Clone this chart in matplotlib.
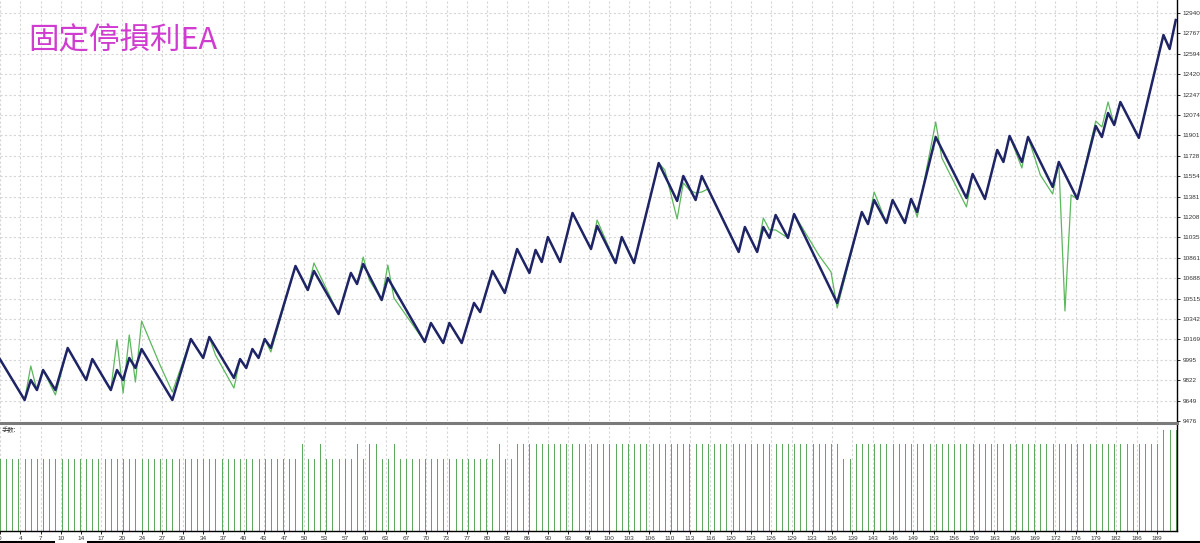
import matplotlib
matplotlib.use('Agg')
import matplotlib.pyplot as plt
import numpy as np
from matplotlib.lines import Line2D

# ---------------- data ----------------
title = '固定停損利EA'
lot_label = '手数:'

# balance curve vertices: trade number, balance
bal_idx = [0, 4, 5, 6, 7, 9, 11, 14, 15, 18, 19, 20, 21, 22, 23, 28, 31, 33, 34, 38,
           39, 40, 41, 42, 43, 44, 48, 50, 51, 55, 57, 58, 59, 62, 63, 69, 70, 72, 73, 75,
           77, 78, 80, 82, 84, 86, 87, 88, 89, 91, 93, 96, 97, 100, 101, 103, 107, 110, 111, 113,
           114, 120, 121, 123, 124, 125, 126, 128, 129, 136, 140, 141, 142, 144, 145, 147, 148, 149, 152, 157,
           158, 160, 162, 163, 164, 166, 167, 171, 172, 175, 178, 179, 180, 181, 182, 185, 189, 190, 191]
bal_val = [10000, 9654, 9824, 9739, 9909, 9739, 10096, 9824, 10002, 9739, 9909, 9824, 10011, 9926, 10087, 9654, 10172, 10011, 10189, 9841,
           10002, 9926, 10087, 10011, 10172, 10096, 10792, 10588, 10750, 10384, 10733, 10639, 10809, 10503, 10690, 10147, 10308, 10138, 10308, 10138,
           10478, 10401, 10750, 10563, 10936, 10733, 10928, 10826, 11038, 10826, 11242, 10936, 11132, 10817, 11038, 10817, 11666, 11344, 11556, 11352,
           11556, 10911, 11123, 10911, 11123, 11030, 11225, 11030, 11233, 10478, 11250, 11148, 11352, 11157, 11352, 11157, 11361, 11250, 11887, 11369,
           11573, 11361, 11777, 11675, 11896, 11675, 11887, 11463, 11675, 11361, 11981, 11887, 12091, 11989, 12184, 11879, 12753, 12634, 12880]

# equity curve vertices: trade number, equity
eq_idx = [0, 4, 5, 6, 7, 9, 11, 14, 15, 18, 19, 20, 21, 22, 23, 26, 28, 31, 33, 34,
          35, 38, 39, 40, 41, 42, 43, 44, 48, 50, 51, 55, 57, 58, 59, 60, 62, 63, 64, 69,
          70, 72, 73, 75, 77, 78, 80, 82, 84, 86, 87, 88, 89, 91, 93, 96, 97, 100, 101, 103,
          107, 108, 110, 111, 112, 113, 114, 115, 120, 121, 123, 124, 125, 126, 128, 129, 133, 135, 136, 140,
          141, 142, 144, 145, 147, 148, 149, 152, 153, 157, 158, 160, 162, 163, 164, 166, 167, 169, 171, 172,
          173, 174, 175, 178, 179, 180, 181, 182, 185, 189, 190, 191]
eq_val = [10000, 9654, 9943, 9739, 9909, 9697, 10096, 9824, 10002, 9739, 10164, 9714, 10206, 9807, 10325, 9951, 9722, 10172, 10011, 10189,
          10036, 9756, 10002, 9926, 10087, 10011, 10172, 10062, 10792, 10588, 10817, 10384, 10733, 10639, 10868, 10673, 10503, 10800, 10520, 10147,
          10308, 10138, 10308, 10138, 10478, 10401, 10750, 10563, 10936, 10733, 10928, 10826, 11038, 10826, 11242, 10936, 11182, 10817, 11038, 10817,
          11666, 11607, 11191, 11497, 11437, 11412, 11420, 11446, 10911, 11123, 10911, 11199, 11098, 11098, 11030, 11233, 10885, 10741, 10435, 11250,
          11148, 11420, 11157, 11352, 11157, 11361, 11208, 12014, 11709, 11293, 11573, 11361, 11777, 11675, 11896, 11624, 11887, 11564, 11403, 11675,
          10410, 11395, 11361, 12023, 11972, 12184, 11989, 12184, 11879, 12753, 12634, 12880]

# lot size of every trade (0..191)
lots = [0.10, 0.10, 0.10, 0.10, 0.10, 0.10, 0.10, 0.10, 0.10, 0.10,
        0.10, 0.10, 0.10, 0.10, 0.10, 0.10, 0.10, 0.10, 0.10, 0.10,
        0.10, 0.10, 0.10, 0.10, 0.10, 0.10, 0.10, 0.10, 0.10, 0.10,
        0.10, 0.10, 0.10, 0.10, 0.10, 0.10, 0.10, 0.10, 0.10, 0.10,
        0.10, 0.10, 0.10, 0.10, 0.10, 0.10, 0.10, 0.10, 0.10, 0.12,
        0.10, 0.10, 0.12, 0.10, 0.10, 0.10, 0.10, 0.10, 0.12, 0.10,
        0.12, 0.12, 0.10, 0.10, 0.12, 0.10, 0.10, 0.10, 0.10, 0.10,
        0.10, 0.10, 0.10, 0.10, 0.10, 0.10, 0.10, 0.10, 0.10, 0.10,
        0.10, 0.12, 0.10, 0.10, 0.12, 0.12, 0.12, 0.12, 0.12, 0.12,
        0.12, 0.12, 0.12, 0.12, 0.12, 0.12, 0.12, 0.12, 0.12, 0.12,
        0.12, 0.12, 0.12, 0.12, 0.12, 0.12, 0.12, 0.12, 0.12, 0.12,
        0.12, 0.12, 0.12, 0.12, 0.12, 0.12, 0.12, 0.12, 0.12, 0.12,
        0.12, 0.12, 0.12, 0.12, 0.12, 0.12, 0.12, 0.12, 0.12, 0.12,
        0.12, 0.12, 0.12, 0.12, 0.12, 0.12, 0.12, 0.10, 0.10, 0.12,
        0.12, 0.12, 0.12, 0.12, 0.12, 0.12, 0.12, 0.12, 0.12, 0.12,
        0.12, 0.12, 0.12, 0.12, 0.12, 0.12, 0.12, 0.12, 0.12, 0.12,
        0.12, 0.12, 0.12, 0.12, 0.12, 0.12, 0.12, 0.12, 0.12, 0.12,
        0.12, 0.12, 0.12, 0.12, 0.12, 0.12, 0.12, 0.12, 0.12, 0.12,
        0.12, 0.12, 0.12, 0.12, 0.12, 0.12, 0.12, 0.12, 0.12, 0.14,
        0.14, 0.14]

y_ticks = [9476, 9649, 9822, 9995, 10169, 10342, 10515, 10688, 10861, 11035, 11208,
           11381, 11554, 11728, 11901, 12074, 12247, 12420, 12594, 12767, 12940]
x_labels = ['0', '4', '7', '10', '14', '17', '20', '24', '27', '30', '34', '37', '40', '43', '47',
            '50', '53', '57', '60', '63', '67', '70', '73', '77', '80', '83', '86', '90', '93', '96',
            '100', '103', '106', '110', '113', '116', '120', '123', '126', '129', '133', '136', '139',
            '143', '146', '149', '153', '156', '159', '163', '166', '169', '172', '176', '179', '182',
            '186', '189']

# ---------------- layout ----------------
W, H = 1200, 543
fig = plt.figure(figsize=(W / 100, H / 100), dpi=100)
fig.patch.set_facecolor('white')


def px_axes(l, t, r, b):
    return fig.add_axes([l / W, 1 - b / H, (r - l) / W, (b - t) / H])


ax = px_axes(0, 0, 1177, 421)
ax2 = px_axes(0, 425, 1177, 531)

trade_n = np.arange(len(lots))
x_max = 191.2
tick_step = 3.297
x_pos = np.arange(len(x_labels)) * tick_step

grid_kw = dict(color='#d6d6d6', linestyle=(0, (2, 2)), linewidth=0.8)
lab_font = ['Liberation Sans', 'DejaVu Sans']

# main panel
ax.plot(eq_idx, eq_val, color='#5cb85c', lw=0.9, zorder=3)
ax.plot(bal_idx, bal_val, color='#1f2466', lw=1.8, zorder=4)
ax.set_xlim(0, x_max)
ax.set_ylim(9476, 13050)
ax.set_xticks(x_pos)
ax.set_yticks(y_ticks)
ax.set_yticklabels([str(v) for v in y_ticks], fontsize=4.6, color='#333333', family=lab_font)
ax.yaxis.tick_right()
ax.tick_params(axis='y', length=2, pad=2, width=0.6)
ax.tick_params(axis='x', length=0, labelbottom=False)
ax.grid(True, **grid_kw)
ax.set_axisbelow(True)
for s in ['top', 'left', 'bottom']:
    ax.spines[s].set_visible(False)
ax.spines['right'].set_color('black')
ax.spines['right'].set_linewidth(1.0)

# lots panel
ax2.vlines(trade_n, 0, lots, color='#5fa85f', lw=0.72, antialiased=False)
ax2.set_xlim(0, x_max)
ax2.set_ylim(0, 0.147)
ax2.set_xticks(x_pos)
ax2.set_xticklabels(x_labels, fontsize=4.6, color='#333333', family=lab_font)
ax2.tick_params(axis='x', length=2, pad=1.5, width=0.6)
ax2.set_yticks([])
ax2.grid(True, axis='x', **grid_kw)
ax2.set_axisbelow(True)
for s in ['top', 'left']:
    ax2.spines[s].set_visible(False)
ax2.spines['right'].set_color('black')
ax2.spines['bottom'].set_color('black')
ax2.spines['right'].set_linewidth(1.0)
ax2.spines['bottom'].set_linewidth(1.0)

# separator between panels
fig.add_artist(Line2D([0, 1177 / W], [1 - 423 / H] * 2, color='#7a7a7a', lw=2.2))
# scroll bar pieces at the very bottom
fig.add_artist(Line2D([0, 53 / W], [1 - 541.5 / H] * 2, color='black', lw=2.2))
fig.add_artist(Line2D([88 / W, 1], [1 - 541.5 / H] * 2, color='black', lw=2.2))

# texts
fig.text(28 / W, 1 - 41 / H, title, fontsize=22, color='#d03cd0',
         family=['Noto Sans CJK TC', 'DejaVu Sans'], ha='left', va='center')
fig.text(2 / W, 1 - 430 / H, lot_label, fontsize=4.5, color='#333333',
         family=['Noto Sans CJK SC', 'DejaVu Sans'], ha='left', va='center')

fig.savefig('out.png', dpi=100, facecolor='white')
